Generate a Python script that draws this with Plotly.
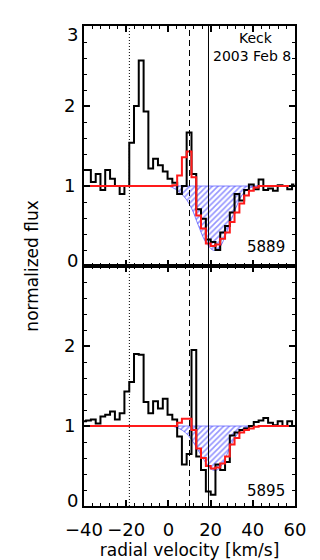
import plotly.graph_objects as go
from plotly.subplots import make_subplots

# bin centres in km/s (same pixel grid for both lines)
velocity = [-40.1, -37.9, -35.6, -33.3, -31.1, -28.8, -26.5, -24.2, -22.0, -19.7,
            -17.4, -15.2, -12.9, -10.6, -8.4, -6.1, -3.8, -1.5, 0.7, 3.0,
            5.3, 7.5, 9.8, 12.1, 14.3, 16.6, 18.9, 21.2, 23.4, 25.7,
            28.0, 30.2, 32.5, 34.8, 37.0, 39.3, 41.6, 43.9, 46.1, 48.4,
            50.7, 52.9, 55.2, 57.5, 59.7]

# Na I 5889 panel
flux_5889 = [1.20, 1.20, 1.05, 1.15, 0.95, 1.20, 1.09, 1.00, 0.90, 1.00,
             1.54, 2.00, 2.57, 1.93, 1.22, 1.34, 1.26, 1.18, 1.09, 1.04,
             0.90, 1.00, 1.67, 1.15, 0.71, 0.59, 0.33, 0.30, 0.20, 0.42,
             0.50, 0.67, 0.90, 0.82, 0.95, 1.02, 0.96, 1.08, 0.95, 0.97,
             0.94, 1.01, 1.00, 0.96, 1.02]
model_5889 = [1.00, 1.00, 1.00, 1.00, 1.00, 1.00, 1.00, 1.00, 1.00, 1.00,
              1.00, 1.00, 1.00, 1.00, 1.00, 1.00, 1.00, 1.00, 1.00, 1.01,
              1.13, 1.36, 1.43, 1.11, 0.63, 0.47, 0.28, 0.25, 0.27, 0.34,
              0.42, 0.55, 0.67, 0.78, 0.88, 0.94, 0.98, 1.00, 1.00, 1.00,
              1.00, 1.00, 1.00, 1.00, 1.00]
abs_v_5889 = [0, 2, 5, 8, 11, 14, 17, 19, 21, 23, 25, 27, 29, 31, 33, 35, 37, 40, 43]
abs_f_5889 = [1.0, 0.98, 0.93, 0.85, 0.72, 0.52, 0.33, 0.25, 0.20, 0.20, 0.26,
              0.38, 0.52, 0.66, 0.79, 0.89, 0.95, 0.99, 1.0]

# Na I 5895 panel
flux_5895 = [1.06, 1.07, 1.08, 1.03, 1.12, 1.14, 1.18, 1.08, 1.16, 1.43,
             1.55, 1.90, 1.89, 1.30, 1.16, 1.31, 1.22, 1.34, 1.14, 1.08,
             0.87, 0.52, 0.65, 1.95, 0.62, 0.45, 0.18, 0.14, 0.52, 0.45,
             0.55, 0.88, 0.92, 0.95, 0.97, 1.00, 1.05, 1.07, 1.10, 1.04,
             1.01, 1.06, 1.00, 1.06, 1.00]
model_5895 = [1.00, 1.00, 1.00, 1.00, 1.00, 1.00, 1.00, 1.00, 1.00, 1.00,
              1.00, 1.00, 1.00, 1.00, 1.00, 1.00, 1.00, 1.00, 1.00, 1.00,
              1.04, 1.09, 1.09, 0.95, 0.72, 0.60, 0.50, 0.47, 0.48, 0.53,
              0.62, 0.77, 0.85, 0.92, 0.95, 0.97, 0.99, 1.00, 1.00, 1.00,
              1.00, 1.00, 1.00, 1.00, 1.00]
abs_v_5895 = [2, 5, 8, 11, 14, 17, 19, 21, 23, 25, 27, 29, 31, 33, 35, 38, 41]
abs_f_5895 = [1.0, 0.97, 0.92, 0.83, 0.70, 0.57, 0.49, 0.45, 0.45, 0.50, 0.60,
              0.72, 0.83, 0.91, 0.96, 0.99, 1.0]

# reference velocities
v_dotted = -18.5
v_dashed = 10.0
v_solid = 19.0

FONT = 'DejaVu Sans'

fig = make_subplots(rows=2, cols=1, shared_xaxes=True, vertical_spacing=0)

panels = [
    (1, flux_5889, model_5889, abs_v_5889, abs_f_5889),
    (2, flux_5895, model_5895, abs_v_5895, abs_f_5895),
]
for row, flux, model, av, af in panels:
    # hatched absorption component (closed against the continuum)
    fig.add_trace(go.Scatter(
        x=av + av[::-1], y=af + [1.0] * len(av),
        fill='toself', mode='lines',
        line=dict(color='rgba(60,60,255,0.8)', width=0.8, shape='spline'),
        fillcolor='rgba(0,0,0,0)',
        fillpattern=dict(shape='/', fgcolor='#2a2aff', size=4, solidity=0.4),
        hoverinfo='skip', showlegend=False,
    ), row=row, col=1)
    fig.add_trace(go.Scatter(
        x=velocity, y=flux, mode='lines',
        line=dict(color='black', width=2, shape='hvh'),
        showlegend=False,
    ), row=row, col=1)
    fig.add_trace(go.Scatter(
        x=velocity, y=model, mode='lines',
        line=dict(color='#ff1a1a', width=2, shape='hvh'),
        showlegend=False,
    ), row=row, col=1)

for v, dash in [(v_dotted, '1px,2px'), (v_dashed, '6px,4px'), (v_solid, 'solid')]:
    fig.add_shape(type='line', xref='x', yref='paper', x0=v, x1=v, y0=0, y1=1,
                  line=dict(color='black', width=1, dash=dash))

axis_common = dict(
    range=[-40, 60], ticks='inside', mirror='allticks', showline=True,
    linecolor='black', linewidth=2, tickcolor='black', ticklen=6, tickwidth=1.5,
    dtick=20, tick0=-40, showgrid=False, zeroline=False, automargin=False,
    minor=dict(ticks='inside', dtick=4, ticklen=3, tickcolor='black', tickwidth=1),
    tickfont=dict(family=FONT, size=18, color='black'),
    ticklabelstandoff=6,
)
fig.update_xaxes(**axis_common)
fig.update_xaxes(showticklabels=False, row=1, col=1)
fig.update_xaxes(title=dict(text='radial velocity [km/s]', standoff=2,
                            font=dict(family=FONT, size=17, color='black')),
                 row=2, col=1)

yaxis_common = dict(
    range=[0, 3], ticks='inside', mirror='allticks', showline=True,
    linecolor='black', linewidth=2, tickcolor='black', ticklen=6, tickwidth=1.5,
    showgrid=False, zeroline=False, automargin=False,
    minor=dict(ticks='inside', dtick=0.2, ticklen=3, tickcolor='black', tickwidth=1),
    tickfont=dict(family=FONT, size=18, color='black'),
    tickvals=[0, 1, 2, 3], ticklabelstandoff=3,
)
fig.update_yaxes(**yaxis_common)
fig.update_yaxes(ticktext=['', '1', '2', ''], row=1, col=1)
fig.update_yaxes(ticktext=['', '1', '2', ''], row=2, col=1)

# end labels sit inside the panel range, as in the original
for label, yref, yval, shift in [('3', 'y', 3, -8), ('0', 'y', 0, 6), ('0', 'y2', 0, 6)]:
    fig.add_annotation(x=0, xref='paper', y=yval, yref=yref, text=label,
                       xanchor='right', xshift=-4, yshift=shift, showarrow=False,
                       font=dict(family=FONT, size=18, color='black'))

fig.add_annotation(x=41.5, y=2.85, xref='x', yref='y', text='Keck', showarrow=False,
                   font=dict(family=FONT, size=14, color='black'))
fig.add_annotation(x=39.5, y=2.63, xref='x', yref='y', text='2003 Feb 8', showarrow=False,
                   font=dict(family=FONT, size=14, color='black'))
fig.add_annotation(x=46.4, y=0.24, xref='x', yref='y', text='5889', showarrow=False,
                   font=dict(family=FONT, size=15, color='black'))
fig.add_annotation(x=46.4, y=0.19, xref='x2', yref='y2', text='5895', showarrow=False,
                   font=dict(family=FONT, size=15, color='black'))
fig.add_annotation(x=-0.305, y=0.5, xref='paper', yref='paper', text='normalized flux',
                   textangle=-90, showarrow=False,
                   font=dict(family=FONT, size=17, color='black'))

fig.update_layout(
    width=320, height=560,
    margin=dict(l=84, r=25, t=26, b=54),
    paper_bgcolor='white', plot_bgcolor='white',
    showlegend=False,
)

# drop the browser's default page margin so the figure fills the window exactly
fig.write_html("out.html", config={'displayModeBar': False},
               post_script="document.body.style.margin='0';")
